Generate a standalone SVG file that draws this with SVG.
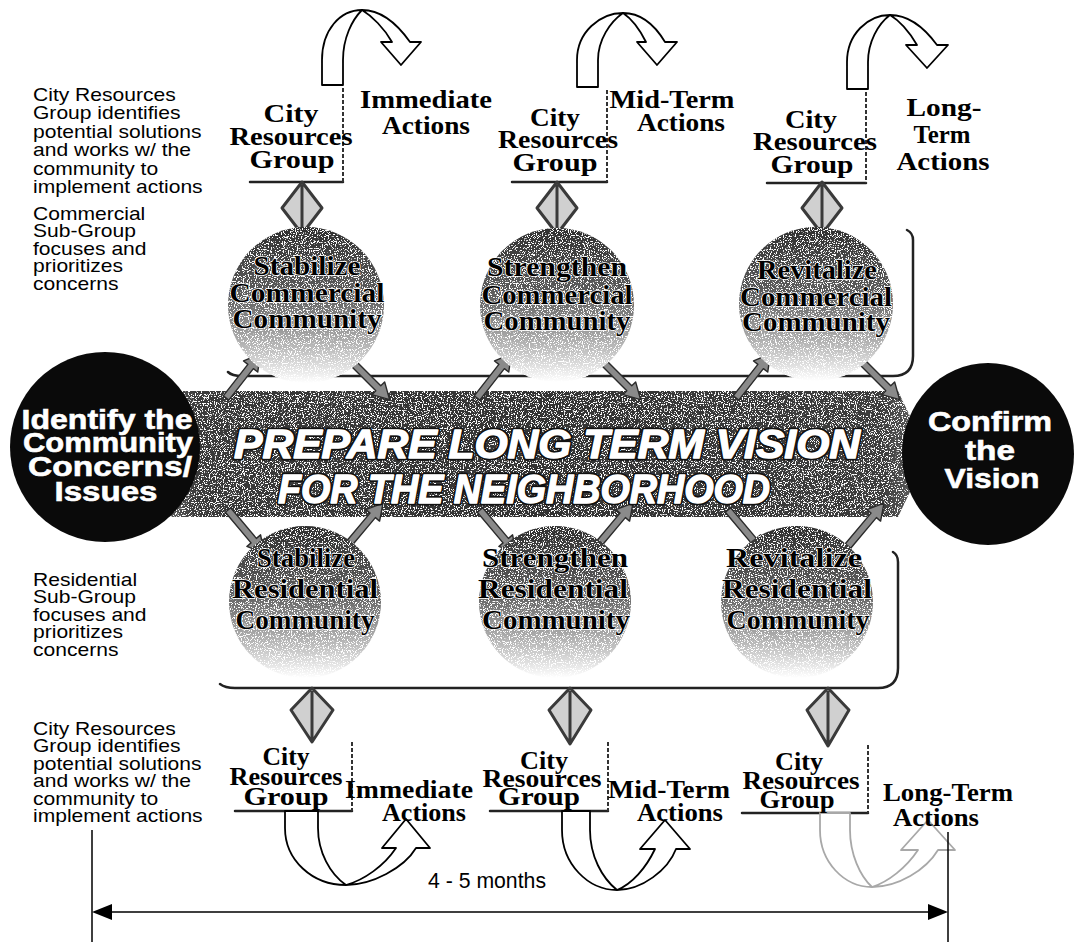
<svg xmlns="http://www.w3.org/2000/svg" width="1074" height="942" viewBox="0 0 1074 942">
<style>
.side{font-family:"Liberation Sans",Arial,sans-serif;font-size:18px;fill:#000}
.tb{font-family:"Liberation Serif","Times New Roman",serif;font-weight:bold;fill:#000;font-size:25px}
.circ{font-family:"Liberation Serif","Times New Roman",serif;font-weight:bold;fill:#000;font-size:28px;stroke:#fff;stroke-width:1.4;paint-order:stroke;stroke-linejoin:round}
.blk{font-family:"Liberation Sans",Arial,sans-serif;font-weight:bold;font-size:28px;fill:#fff;stroke:#fff;stroke-width:0.6}
.bandO{font-family:"Liberation Sans",Arial,sans-serif;font-weight:bold;font-style:italic;font-size:41px;fill:#111;stroke:#111;stroke-width:5;stroke-linejoin:round}
.bandW{font-family:"Liberation Sans",Arial,sans-serif;font-weight:bold;font-style:italic;font-size:41px;fill:#fff;stroke:#fff;stroke-width:1.4;stroke-linejoin:round}
.uarr{fill:#fff;stroke:#000;stroke-width:1.8;stroke-linejoin:round}
.light{stroke:#a8a8a8}
.rule{fill:none;stroke:#222;stroke-width:2.5;stroke-linecap:round}
.dots{fill:none;stroke:#333;stroke-width:2;stroke-dasharray:4 2}
.ba{fill:#8a8a8a;stroke:#2a2a2a;stroke-width:1.4;stroke-linejoin:round}
.dia{fill:#d0d0d0;stroke:#3a3a3a;stroke-width:3;stroke-linejoin:round}
.dim{stroke:#000;stroke-width:1.5;fill:none}
.dimt{font-family:"Liberation Sans",Arial,sans-serif;font-size:22px;fill:#000}
.gc{fill:url(#gCirc)}
</style>
<defs>
<linearGradient id="gCirc" x1="0" y1="0" x2="0" y2="1">
<stop offset="0" stop-color="#2e2e2e"/><stop offset="0.45" stop-color="#606060"/><stop offset="0.78" stop-color="#bcbcbc"/><stop offset="1" stop-color="#ffffff"/>
</linearGradient>
<linearGradient id="gBand" x1="0" y1="0" x2="1" y2="0">
<stop offset="0" stop-color="#7a7a7a"/><stop offset="0.06" stop-color="#3a3a3a"/><stop offset="0.5" stop-color="#333333"/><stop offset="0.94" stop-color="#3c3c3c"/><stop offset="1" stop-color="#6a6a6a"/>
</linearGradient>
<filter id="grain" x="0" y="0" width="100%" height="100%">
<feTurbulence type="fractalNoise" baseFrequency="0.85" numOctaves="2" seed="7" result="noise"/>
<feColorMatrix in="noise" type="matrix" values="0 0 0 0 1  0 0 0 0 1  0 0 0 0 1  0 0 0 -14 6.1" result="spk"/>
<feComposite in="spk" in2="SourceAlpha" operator="in" result="spk2"/>
<feMerge><feMergeNode in="SourceGraphic"/><feMergeNode in="spk2"/></feMerge>
</filter>
<path id="ba" d="M0,-3.5 H40 V-9 L56,0 L40,9 V3.5 H0 Z"/>
</defs>
<rect width="1074" height="942" fill="#fff"/>

<!-- side notes -->
<g id="note-top-crg" transform="translate(33,0) scale(1.17,1)">
<text class="side"><tspan x="0" y="101">City Resources</tspan><tspan x="0" y="119.5">Group identifies</tspan><tspan x="0" y="138">potential solutions</tspan><tspan x="0" y="156.5">and works w/ the</tspan><tspan x="0" y="175">community to</tspan><tspan x="0" y="193.5">implement actions</tspan></text>
</g>
<g id="note-commercial" transform="translate(33,0) scale(1.17,1)">
<text class="side"><tspan x="0" y="220">Commercial</tspan><tspan x="0" y="237.5">Sub-Group</tspan><tspan x="0" y="255">focuses and</tspan><tspan x="0" y="272.5">prioritizes</tspan><tspan x="0" y="290">concerns</tspan></text>
</g>
<g id="note-residential" transform="translate(33,0) scale(1.17,1)">
<text class="side"><tspan x="0" y="586">Residential</tspan><tspan x="0" y="603.5">Sub-Group</tspan><tspan x="0" y="621">focuses and</tspan><tspan x="0" y="638.5">prioritizes</tspan><tspan x="0" y="656">concerns</tspan></text>
</g>
<g id="note-bottom-crg" transform="translate(33,0) scale(1.17,1)">
<text class="side"><tspan x="0" y="735">City Resources</tspan><tspan x="0" y="752.5">Group identifies</tspan><tspan x="0" y="770">potential solutions</tspan><tspan x="0" y="787.5">and works w/ the</tspan><tspan x="0" y="805">community to</tspan><tspan x="0" y="822.5">implement actions</tspan></text>
</g>

<!-- central band -->
<g id="band">
<path d="M150,391 L898,391 L928,454 L898,517 L150,517 L185,454 Z" fill="url(#gBand)" filter="url(#grain)"/>
</g>

<!-- connectors -->
<g id="connectors">
<path class="rule" d="M228,372 Q232,376 242,376 H893 Q913,376 913,356 V240 Q913,233 907,230"/>
<path class="rule" d="M220,684 Q225,688 235,688 H878 Q898,688 898,668 V562 Q898,555 893,552"/>
<path class="rule" d="M250,182 H343"/><path class="dots" d="M343,88 V182"/>
<path class="rule" d="M512,182 H607"/><path class="dots" d="M607,90 V182"/>
<path class="rule" d="M767,183 H866"/><path class="dots" d="M866,92 V183"/>
<path class="rule" d="M235,811 H352"/><path class="dots" d="M352,742 V811"/>
<path class="rule" d="M490,811 H608"/><path class="dots" d="M608,742 V811"/>
<path class="rule" d="M742,813 H868"/><path class="dots" d="M868,745 V813"/>
<path class="dia" d="M302,182 L322,208 L302,234 L282,208 Z M302,185 V231"/>
<path class="dia" d="M557,182 L577,208 L557,234 L537,208 Z M557,185 V231"/>
<path class="dia" d="M822,182 L842,208 L822,234 L802,208 Z M822,185 V231"/>
<path class="dia" d="M312,688 L333,710 L312,742 L291,710 Z M312,691 V739"/>
<path class="dia" d="M570,688 L591,710 L570,744 L549,710 Z M570,691 V741"/>
<path class="dia" d="M828,688 L849,710 L828,746 L807,710 Z M828,691 V743"/>
<use href="#ba" class="ba" transform="translate(226,398) rotate(-52)"/>
<use href="#ba" class="ba" transform="translate(350,360) rotate(45)"/>
<use href="#ba" class="ba" transform="translate(477,398) rotate(-52)"/>
<use href="#ba" class="ba" transform="translate(601,360) rotate(45)"/>
<use href="#ba" class="ba" transform="translate(736,398) rotate(-52)"/>
<use href="#ba" class="ba" transform="translate(860,360) rotate(45)"/>
<use href="#ba" class="ba" transform="translate(228,510) rotate(50)"/>
<use href="#ba" class="ba" transform="translate(347,546) rotate(-50)"/>
<use href="#ba" class="ba" transform="translate(480,510) rotate(50)"/>
<use href="#ba" class="ba" transform="translate(597,546) rotate(-50)"/>
<use href="#ba" class="ba" transform="translate(728,510) rotate(50)"/>
<use href="#ba" class="ba" transform="translate(848,546) rotate(-50)"/>
<path class="uarr" d="M322,85 L322,60 C322,30 340,10 362,10 C382,10 398,25 410,42 L421,42 L401,65 L381,42 L392,42 C384,28 372,16 362,10 C352,20 343,38 343,60 L343,85 Z"/>
<path class="uarr" d="M577,87 L577,60 C577,32 600,13 623,13 C642,13 656,27 665,42 L677,42 L657,65 L637,42 L646,42 C640,30 632,19 623,13 C610,22 598,40 598,60 L598,87 Z"/>
<path class="uarr" d="M847,89 L847,62 C847,34 868,15 890,15 C910,15 926,30 937,45 L948,45 L927,68 L906,45 L917,45 C910,33 900,21 890,15 C878,24 868,42 868,62 L868,89 Z"/>
<path class="uarr" d="M285,811 L285,828 C285,860 312,885 346,885 C372,885 404,868 416,848 L430,848 L406,819 L382,848 L396,848 C384,866 364,880 346,885 C330,874 318,852 318,828 L318,811 Z"/>
<path class="uarr" d="M562,811 L562,830 C562,864 588,890 617,890 C642,890 668,870 676,849 L690,849 L665,820 L640,849 L655,849 C646,868 632,884 617,890 C602,878 590,856 590,830 L590,811 Z"/>
<path class="uarr light" d="M820,813 L820,830 C820,862 844,887 872,887 C898,887 926,870 938,850 L955,850 L928,820 L901,850 L918,850 C906,868 888,882 872,887 C860,876 850,854 850,830 L850,813 Z"/>
<path class="dim" d="M92,830 V942 M948,832 V942 M102,912 H938"/>
<polygon points="92,912 112,904 112,920" fill="#000"/>
<polygon points="948,912 928,904 928,920" fill="#000"/>
</g>

<!-- band text -->
<g id="band-label">
<text class="bandO" x="234" y="458" textLength="626" lengthAdjust="spacingAndGlyphs">PREPARE LONG TERM VISION</text>
<text class="bandO" x="278" y="503" textLength="492" lengthAdjust="spacingAndGlyphs">FOR THE NEIGHBORHOOD</text>
<text class="bandW" x="234" y="458" textLength="626" lengthAdjust="spacingAndGlyphs">PREPARE LONG TERM VISION</text>
<text class="bandW" x="278" y="503" textLength="492" lengthAdjust="spacingAndGlyphs">FOR THE NEIGHBORHOOD</text>
</g>

<!-- gray circles -->
<g id="stabilize-commercial">
<circle class="gc" cx="306" cy="305" r="78" filter="url(#grain)"/>
<text class="circ" x="307" y="275" text-anchor="middle" textLength="107" lengthAdjust="spacingAndGlyphs">Stabilize</text>
<text class="circ" x="307" y="302" text-anchor="middle" textLength="155" lengthAdjust="spacingAndGlyphs">Commercial</text>
<text class="circ" x="307" y="328" text-anchor="middle" textLength="149" lengthAdjust="spacingAndGlyphs">Community</text>
</g>
<g id="strengthen-commercial">
<circle class="gc" cx="557" cy="305" r="77" filter="url(#grain)"/>
<text class="circ" x="557" y="276" text-anchor="middle" textLength="140" lengthAdjust="spacingAndGlyphs">Strengthen</text>
<text class="circ" x="557" y="304" text-anchor="middle" textLength="151" lengthAdjust="spacingAndGlyphs">Commercial</text>
<text class="circ" x="557" y="330" text-anchor="middle" textLength="147" lengthAdjust="spacingAndGlyphs">Community</text>
</g>
<g id="revitalize-commercial">
<circle class="gc" cx="816" cy="304" r="77" filter="url(#grain)"/>
<text class="circ" x="817" y="279" text-anchor="middle" textLength="120" lengthAdjust="spacingAndGlyphs">Revitalize</text>
<text class="circ" x="816" y="306" text-anchor="middle" textLength="152" lengthAdjust="spacingAndGlyphs">Commercial</text>
<text class="circ" x="816" y="331" text-anchor="middle" textLength="148" lengthAdjust="spacingAndGlyphs">Community</text>
</g>
<g id="stabilize-residential">
<circle class="gc" cx="305" cy="602" r="76" filter="url(#grain)"/>
<text class="circ" x="306" y="567" text-anchor="middle" textLength="98" lengthAdjust="spacingAndGlyphs">Stabilize</text>
<text class="circ" x="305" y="598" text-anchor="middle" textLength="146" lengthAdjust="spacingAndGlyphs">Residential</text>
<text class="circ" x="305" y="629" text-anchor="middle" textLength="139" lengthAdjust="spacingAndGlyphs">Community</text>
</g>
<g id="strengthen-residential">
<circle class="gc" cx="555" cy="602" r="76" filter="url(#grain)"/>
<text class="circ" x="555" y="567" text-anchor="middle" textLength="146" lengthAdjust="spacingAndGlyphs">Strengthen</text>
<text class="circ" x="553" y="598" text-anchor="middle" textLength="150" lengthAdjust="spacingAndGlyphs">Residential</text>
<text class="circ" x="556" y="629" text-anchor="middle" textLength="148" lengthAdjust="spacingAndGlyphs">Community</text>
</g>
<g id="revitalize-residential">
<circle class="gc" cx="797" cy="602" r="76" filter="url(#grain)"/>
<text class="circ" x="794" y="567" text-anchor="middle" textLength="136" lengthAdjust="spacingAndGlyphs">Revitalize</text>
<text class="circ" x="797" y="598" text-anchor="middle" textLength="150" lengthAdjust="spacingAndGlyphs">Residential</text>
<text class="circ" x="798" y="629" text-anchor="middle" textLength="143" lengthAdjust="spacingAndGlyphs">Community</text>
</g>

<!-- black circles -->
<g id="identify-concerns">
<circle cx="105" cy="447" r="95" fill="#0a0a0a"/>
<text class="blk" x="107" y="429" text-anchor="middle" textLength="171" lengthAdjust="spacingAndGlyphs">Identify the</text>
<text class="blk" x="108" y="452" text-anchor="middle" textLength="170" lengthAdjust="spacingAndGlyphs">Community</text>
<text class="blk" x="110" y="476" text-anchor="middle" textLength="164" lengthAdjust="spacingAndGlyphs">Concerns/</text>
<text class="blk" x="106" y="501" text-anchor="middle" textLength="103" lengthAdjust="spacingAndGlyphs">Issues</text>
</g>
<g id="confirm-vision">
<ellipse cx="988" cy="454" rx="86" ry="91" fill="#0a0a0a"/>
<text class="blk" x="990" y="431" text-anchor="middle" textLength="124" lengthAdjust="spacingAndGlyphs">Confirm</text>
<text class="blk" x="990" y="460" text-anchor="middle" textLength="50" lengthAdjust="spacingAndGlyphs">the</text>
<text class="blk" x="992" y="488" text-anchor="middle" textLength="95" lengthAdjust="spacingAndGlyphs">Vision</text>
</g>

<!-- City Resources Group nodes (top) -->
<g id="crg-top-1">
<text class="tb" x="291" y="122" text-anchor="middle" textLength="55" lengthAdjust="spacingAndGlyphs">City</text>
<text class="tb" x="291" y="145" text-anchor="middle" textLength="123" lengthAdjust="spacingAndGlyphs">Resources</text>
<text class="tb" x="292" y="168" text-anchor="middle" textLength="85" lengthAdjust="spacingAndGlyphs">Group</text>
</g>
<g id="crg-top-2">
<text class="tb" x="555" y="126" text-anchor="middle" textLength="50" lengthAdjust="spacingAndGlyphs">City</text>
<text class="tb" x="558" y="148" text-anchor="middle" textLength="120" lengthAdjust="spacingAndGlyphs">Resources</text>
<text class="tb" x="555" y="171" text-anchor="middle" textLength="85" lengthAdjust="spacingAndGlyphs">Group</text>
</g>
<g id="crg-top-3">
<text class="tb" x="811" y="128" text-anchor="middle" textLength="52" lengthAdjust="spacingAndGlyphs">City</text>
<text class="tb" x="815" y="150" text-anchor="middle" textLength="124" lengthAdjust="spacingAndGlyphs">Resources</text>
<text class="tb" x="812" y="173" text-anchor="middle" textLength="83" lengthAdjust="spacingAndGlyphs">Group</text>
</g>
<g id="immediate-top">
<text class="tb" x="426" y="108" text-anchor="middle" textLength="132" lengthAdjust="spacingAndGlyphs">Immediate</text>
<text class="tb" x="426" y="134" text-anchor="middle" textLength="88" lengthAdjust="spacingAndGlyphs">Actions</text>
</g>
<g id="midterm-top">
<text class="tb" x="672" y="108" text-anchor="middle" textLength="125" lengthAdjust="spacingAndGlyphs">Mid-Term</text>
<text class="tb" x="681" y="131" text-anchor="middle" textLength="88" lengthAdjust="spacingAndGlyphs">Actions</text>
</g>
<g id="longterm-top">
<text class="tb" x="944" y="116" text-anchor="middle" textLength="75" lengthAdjust="spacingAndGlyphs">Long-</text>
<text class="tb" x="942" y="143" text-anchor="middle" textLength="57" lengthAdjust="spacingAndGlyphs">Term</text>
<text class="tb" x="943" y="170" text-anchor="middle" textLength="93" lengthAdjust="spacingAndGlyphs">Actions</text>
</g>

<!-- City Resources Group nodes (bottom) -->
<g id="crg-bottom-1">
<text class="tb" x="286" y="765" text-anchor="middle" textLength="47" lengthAdjust="spacingAndGlyphs">City</text>
<text class="tb" x="286" y="785" text-anchor="middle" textLength="113" lengthAdjust="spacingAndGlyphs">Resources</text>
<text class="tb" x="286" y="805" text-anchor="middle" textLength="85" lengthAdjust="spacingAndGlyphs">Group</text>
</g>
<g id="crg-bottom-2">
<text class="tb" x="544" y="769" text-anchor="middle" textLength="48" lengthAdjust="spacingAndGlyphs">City</text>
<text class="tb" x="542" y="787" text-anchor="middle" textLength="119" lengthAdjust="spacingAndGlyphs">Resources</text>
<text class="tb" x="539" y="805" text-anchor="middle" textLength="82" lengthAdjust="spacingAndGlyphs">Group</text>
</g>
<g id="crg-bottom-3">
<text class="tb" x="799" y="770" text-anchor="middle" textLength="48" lengthAdjust="spacingAndGlyphs">City</text>
<text class="tb" x="801" y="789" text-anchor="middle" textLength="117" lengthAdjust="spacingAndGlyphs">Resources</text>
<text class="tb" x="797" y="808" text-anchor="middle" textLength="75" lengthAdjust="spacingAndGlyphs">Group</text>
</g>
<g id="immediate-bottom">
<text class="tb" x="409" y="798" text-anchor="middle" textLength="128" lengthAdjust="spacingAndGlyphs">Immediate</text>
<text class="tb" x="424" y="821" text-anchor="middle" textLength="84" lengthAdjust="spacingAndGlyphs">Actions</text>
</g>
<g id="midterm-bottom">
<text class="tb" x="669" y="798" text-anchor="middle" textLength="122" lengthAdjust="spacingAndGlyphs">Mid-Term</text>
<text class="tb" x="680" y="821" text-anchor="middle" textLength="86" lengthAdjust="spacingAndGlyphs">Actions</text>
</g>
<g id="longterm-bottom">
<text class="tb" x="948" y="801" text-anchor="middle" textLength="130" lengthAdjust="spacingAndGlyphs">Long-Term</text>
<text class="tb" x="936" y="826" text-anchor="middle" textLength="86" lengthAdjust="spacingAndGlyphs">Actions</text>
</g>

<g id="duration">
<text class="dimt" x="487" y="888" text-anchor="middle" textLength="118" lengthAdjust="spacingAndGlyphs">4 - 5 months</text>
</g>
</svg>
